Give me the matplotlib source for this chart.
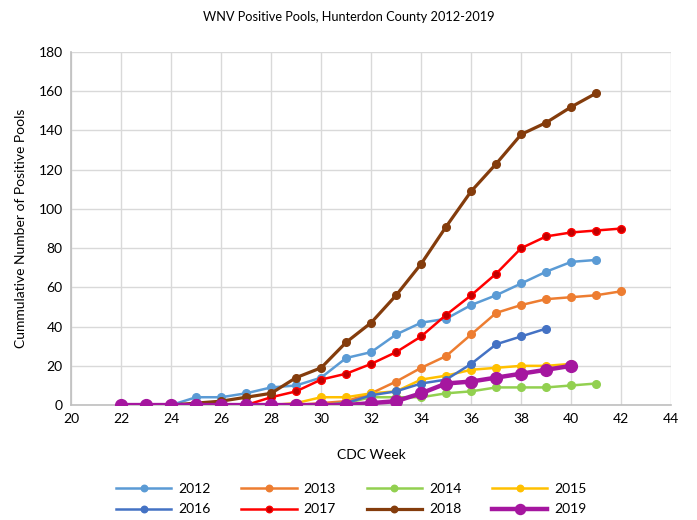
import matplotlib
matplotlib.use("Agg")
import matplotlib.pyplot as plt

plt.rcParams['font.family'] = ['Lato', 'DejaVu Sans']

weeks_2012 = list(range(22, 42))
vals_2012 = [0, 0, 0, 4, 4, 6, 9, 10, 14, 24, 27, 36, 42, 44, 51, 56, 62, 68, 73, 74]
weeks_2013 = list(range(22, 43))
vals_2013 = [0, 0, 0, 0, 0, 0, 0, 0, 1, 2, 6, 12, 19, 25, 36, 47, 51, 54, 55, 56, 58]
weeks_2014 = list(range(22, 42))
vals_2014 = [0, 0, 0, 0, 0, 0, 0, 0, 0, 1, 4, 4, 4, 6, 7, 9, 9, 9, 10, 11]
weeks_2015 = list(range(22, 41))
vals_2015 = [0, 0, 0, 0, 0, 0, 0, 1, 4, 4, 6, 7, 13, 15, 18, 19, 20, 20, 21]
weeks_2016 = list(range(22, 40))
vals_2016 = [0, 0, 0, 0, 0, 0, 0, 0, 0, 1, 5, 7, 11, 13, 21, 31, 35, 39]
weeks_2017 = list(range(22, 43))
vals_2017 = [0, 0, 0, 0, 0, 0, 4, 7, 13, 16, 21, 27, 35, 46, 56, 67, 80, 86, 88, 89, 90]
weeks_2018 = list(range(22, 42))
vals_2018 = [0, 0, 0, 1, 2, 4, 6, 14, 19, 32, 42, 56, 72, 91, 109, 123, 138, 144, 152, 159]
weeks_2019 = list(range(22, 41))
vals_2019 = [0, 0, 0, 0, 0, 0, 0, 0, 0, 0, 1, 2, 6, 11, 12, 14, 16, 18, 20]

x_ticks = list(range(20, 46, 2))
y_ticks = list(range(0, 200, 20))

series = [
    ("2012", weeks_2012, vals_2012, dict(color="#5B9BD5", lw=1.8, ms=5.5, mfc="#5B9BD5", mec="#5B9BD5")),
    ("2013", weeks_2013, vals_2013, dict(color="#ED7D31", lw=1.8, ms=5.5, mfc="#ED7D31", mec="#ED7D31")),
    ("2014", weeks_2014, vals_2014, dict(color="#92D050", lw=1.8, ms=5.5, mfc="#92D050", mec="#92D050")),
    ("2015", weeks_2015, vals_2015, dict(color="#FFC000", lw=1.8, ms=5.5, mfc="#FFC000", mec="#FFC000")),
    ("2016", weeks_2016, vals_2016, dict(color="#4472C4", lw=1.8, ms=5.5, mfc="#4472C4", mec="#4472C4")),
    ("2017", weeks_2017, vals_2017, dict(color="#FF0000", lw=1.8, ms=5.5, mfc="#C00000", mec="#FF0000")),
    ("2018", weeks_2018, vals_2018, dict(color="#843C0C", lw=2.3, ms=5.5, mfc="#843C0C", mec="#843C0C")),
    ("2019", weeks_2019, vals_2019, dict(color="#A5169F", lw=3.2, ms=8.5, mfc="#A5169F", mec="#A5169F")),
]

fig = plt.figure(figsize=(6.97, 5.2), dpi=100)
ax = fig.add_axes([0.102, 0.221, 0.861, 0.679])

handles = {}
for name, wx, wy, st in series:
    h, = ax.plot(wx, wy, marker="o", color=st["color"], lw=st["lw"], ms=st["ms"],
                 mfc=st["mfc"], mec=st["mec"], label=name, zorder=3)
    handles[name] = h

ax.set_xlim(20, 44)
ax.set_ylim(0, 180)
ax.set_xticks(x_ticks)
ax.set_yticks(y_ticks)
ax.tick_params(length=0, labelsize=10, colors="#000000", pad=6)
ax.grid(True, color="#D9D9D9", lw=1)
ax.set_axisbelow(True)
for s in ["top", "right"]:
    ax.spines[s].set_visible(False)
ax.spines["left"].set_color("#BFBFBF")
ax.spines["left"].set_linewidth(1.2)
ax.spines["bottom"].set_color("#BFBFBF")
ax.spines["bottom"].set_linewidth(1.2)

fig.text(0.5, 1 - 17 / 520, "WNV Positive Pools, Hunterdon County 2012-2019",
         fontsize=9.2, ha="center", va="center")
ax.set_xlabel("CDC Week", fontsize=10, labelpad=17)
ax.set_ylabel("Cummulative Number of Positive Pools", fontsize=10, labelpad=8)

order = ["2012", "2016", "2013", "2017", "2014", "2018", "2015", "2019"]
fig.legend([handles[o] for o in order], order, loc="center", ncol=4,
           bbox_to_anchor=(0.504, 0.040), frameon=False, fontsize=10,
           handlelength=4.0, columnspacing=2.2, labelspacing=0.6, handletextpad=0.5,
           markerscale=0.85)

fig.savefig("out.png", dpi=100)
